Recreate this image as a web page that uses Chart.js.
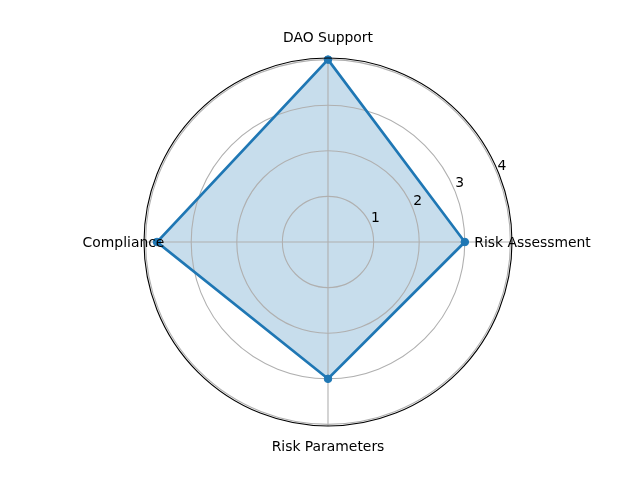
<!DOCTYPE html>
<html>
<head>
<meta charset="utf-8">
<script src="https://cdn.jsdelivr.net/npm/chart.js@4/dist/chart.umd.min.js"></script>
<style>
  html, body { margin: 0; padding: 0; background: #ffffff; }
  #wrap { width: 640px; height: 480px; }
</style>
</head>
<body>
<div id="wrap"><canvas id="c" width="640" height="480"></canvas></div>
<script>
// Categories in clockwise order starting from the top
const categories = ['DAO Support', 'Risk Assessment', 'Risk Parameters', 'Compliance'];
const scores = [4, 3, 3, 3.75];
const tickValues = [1, 2, 3, 4];
const radialMax = 4.035;

const FONT = '13.9px "DejaVu Sans"';

const overlay = {
  id: 'overlay',
  afterDatasetDraw(chart, args) {
    // gridlines go above the filled area but below the line
    if (args.index !== 1) return;
    const s = chart.scales.r;
    const ctx = chart.ctx;
    ctx.save();
    ctx.strokeStyle = '#b0b0b0';
    ctx.lineWidth = 1.1;
    tickValues.forEach(v => {
      const r = s.getDistanceFromCenterForValue(v);
      ctx.beginPath();
      ctx.arc(s.xCenter, s.yCenter, r, 0, Math.PI * 2);
      ctx.stroke();
    });
    for (let i = 0; i < categories.length; i++) {
      const ang = -Math.PI / 2 + i * 2 * Math.PI / categories.length;
      ctx.beginPath();
      ctx.moveTo(s.xCenter, s.yCenter);
      ctx.lineTo(s.xCenter + s.drawingArea * Math.cos(ang), s.yCenter + s.drawingArea * Math.sin(ang));
      ctx.stroke();
    }
    ctx.restore();
  },
  afterDatasetsDraw(chart) {
    const s = chart.scales.r;
    const ctx = chart.ctx;
    ctx.save();
    ctx.strokeStyle = '#000000';
    ctx.lineWidth = 1.1;
    ctx.beginPath();
    ctx.arc(s.xCenter, s.yCenter, s.drawingArea, 0, Math.PI * 2);
    ctx.stroke();
    ctx.restore();
  },
  afterDraw(chart) {
    const s = chart.scales.r;
    const ctx = chart.ctx;
    ctx.save();
    ctx.font = FONT;
    ctx.fillStyle = '#000000';
    ctx.textAlign = 'center';
    ctx.textBaseline = 'middle';
    // radial tick labels at 22.5 degrees
    const a = 22.5 * Math.PI / 180;
    tickValues.forEach(v => {
      const r = s.getDistanceFromCenterForValue(v);
      const x = s.xCenter + r * Math.cos(a) + 5.3;
      const y = s.yCenter - r * Math.sin(a) - 6;
      ctx.fillText(String(v), x, y);
    });
    // category labels, centred just outside the frame
    const rl = s.drawingArea + 20.5;
    categories.forEach((lab, i) => {
      const ang = -Math.PI / 2 + i * 2 * Math.PI / categories.length;
      const x = s.xCenter + rl * Math.cos(ang);
      const y = s.yCenter + rl * Math.sin(ang) + 1.2;
      ctx.fillText(lab, x, y);
    });
    ctx.restore();
  }
};

new Chart(document.getElementById('c'), {
  type: 'radar',
  data: {
    labels: categories,
    datasets: [{
      data: scores,
      borderColor: '#1f77b4',
      backgroundColor: 'rgba(0,0,0,0)',
      borderWidth: 2.7,
      fill: false,
      pointRadius: 3.8,
      pointBorderWidth: 1,
      pointBackgroundColor: '#1f77b4',
      pointBorderColor: '#1f77b4',
      tension: 0,
      order: 0
    }, {
      data: scores,
      borderColor: 'rgba(0,0,0,0)',
      backgroundColor: 'rgba(31,119,180,0.25)',
      borderWidth: 0,
      fill: true,
      pointRadius: 0,
      tension: 0,
      order: 1
    }]
  },
  options: {
    responsive: false,
    animation: false,
    events: [],
    layout: { padding: { left: 144, right: 128, top: 58, bottom: 54 } },
    plugins: { legend: { display: false }, tooltip: { enabled: false } },
    scales: {
      r: {
        min: 0,
        max: radialMax,
        ticks: { display: false, stepSize: 1, includeBounds: false },
        grid: { display: false },
        angleLines: { display: false },
        pointLabels: { display: false }
      }
    }
  },
  plugins: [overlay]
});
</script>
</body>
</html>
